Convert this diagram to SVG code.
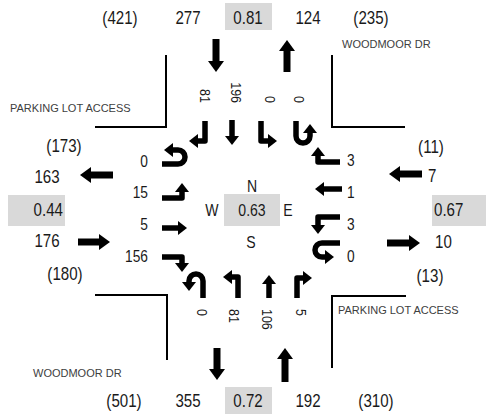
<svg xmlns="http://www.w3.org/2000/svg" width="486" height="418" viewBox="0 0 486 418">
<style>
text{font-family:"Liberation Sans",Arial,sans-serif;fill:#1a1a1a}
.o{font-size:18px}
.i{font-size:16px}
.r{font-size:14.5px}
.st{font-size:11px;fill:#404040}
.m{text-anchor:middle}
.e{text-anchor:end}
.box{fill:#d9d9d9}
.curb{fill:none;stroke:#000;stroke-width:2}
.big{fill:none;stroke:#000;stroke-width:7;marker-end:url(#hb)}
.mv{fill:none;stroke:#000;stroke-width:5.5;stroke-linejoin:round;marker-end:url(#hs)}
</style>
<defs>
<marker id="hb" viewBox="0 0 11 16" refX="0" refY="8" markerWidth="11" markerHeight="16" markerUnits="userSpaceOnUse" orient="auto"><path d="M0,0 L11,8 L0,16z" fill="#000"/></marker>
<marker id="hs" viewBox="0 0 9 14" refX="0" refY="7" markerWidth="9" markerHeight="14" markerUnits="userSpaceOnUse" orient="auto"><path d="M0,0 L9,7 L0,14z" fill="#000"/></marker>
</defs>

<g id="curbs">
<path class="curb" d="M95,127 H166 V55"/>
<path class="curb" d="M332,55 V127 H405"/>
<path class="curb" d="M95,295 H167 V360"/>
<path class="curb" d="M406,296 H332 V368"/>
</g>

<g id="street-labels">
<text class="st" x="342" y="48">WOODMOOR DR</text>
<text class="st" x="10" y="112">PARKING LOT ACCESS</text>
<text class="st" x="338" y="314">PARKING LOT ACCESS</text>
<text class="st" x="33" y="377">WOODMOOR DR</text>
</g>

<g id="north-leg">
<rect class="box" x="225" y="3" width="47" height="27"/>
<text class="o m" transform="translate(120,24) scale(.84,1)">(421)</text>
<text class="o m" transform="translate(188,24) scale(.84,1)">277</text>
<text class="o m" transform="translate(248,24) scale(.84,1)">0.81</text>
<text class="o m" transform="translate(308,24) scale(.84,1)">124</text>
<text class="o m" transform="translate(371,24) scale(.84,1)">(235)</text>
</g>

<g id="south-leg">
<rect class="box" x="225" y="387" width="47" height="27"/>
<text class="o m" transform="translate(124,407) scale(.84,1)">(501)</text>
<text class="o m" transform="translate(188,407) scale(.84,1)">355</text>
<text class="o m" transform="translate(248,407) scale(.84,1)">0.72</text>
<text class="o m" transform="translate(308,407) scale(.84,1)">192</text>
<text class="o m" transform="translate(376,407) scale(.84,1)">(310)</text>
</g>

<g id="west-leg">
<rect class="box" x="8" y="195" width="57" height="31"/>
<text class="o m" transform="translate(64,152) scale(.84,1)">(173)</text>
<text class="o m" transform="translate(47,183) scale(.84,1)">163</text>
<text class="o e" transform="translate(63,216) scale(.84,1)">0.44</text>
<text class="o m" transform="translate(47,247) scale(.84,1)">176</text>
<text class="o m" transform="translate(65,280) scale(.84,1)">(180)</text>
</g>

<g id="east-leg">
<rect class="box" x="432" y="195" width="54" height="31"/>
<text class="o m" transform="translate(431,153) scale(.84,1)">(11)</text>
<text class="o" transform="translate(428,182) scale(.84,1)">7</text>
<text class="o" transform="translate(434,216) scale(.84,1)">0.67</text>
<text class="o" transform="translate(435,248) scale(.84,1)">10</text>
<text class="o m" transform="translate(430,282) scale(.84,1)">(13)</text>
</g>

<g id="center">
<rect class="box" x="224" y="194" width="56" height="32"/>
<text class="i m" transform="translate(252,192) scale(.88,1)">N</text>
<text class="i m" transform="translate(212,216) scale(.88,1)">W</text>
<text class="i m" transform="translate(252,216) scale(.88,1)">0.63</text>
<text class="i m" transform="translate(288,216) scale(.88,1)">E</text>
<text class="i m" transform="translate(251,248) scale(.88,1)">S</text>
</g>

<g id="movement-labels">
<text class="i e" transform="translate(148,167) scale(.86,1)">0</text>
<text class="i e" transform="translate(148,198) scale(.86,1)">15</text>
<text class="i e" transform="translate(148,230) scale(.86,1)">5</text>
<text class="i e" transform="translate(148,262) scale(.86,1)">156</text>
<text class="i" transform="translate(347,166) scale(.86,1)">3</text>
<text class="i" transform="translate(347,198) scale(.86,1)">1</text>
<text class="i" transform="translate(347,230) scale(.86,1)">3</text>
<text class="i" transform="translate(347,262) scale(.86,1)">0</text>
<text class="r e" transform="translate(200,103) rotate(90) scale(.86,1)">81</text>
<text class="r e" transform="translate(231,103) rotate(90) scale(.86,1)">196</text>
<text class="r e" transform="translate(265,103) rotate(90) scale(.86,1)">0</text>
<text class="r e" transform="translate(294,103) rotate(90) scale(.86,1)">0</text>
<text class="r" transform="translate(197,309) rotate(90) scale(.86,1)">0</text>
<text class="r" transform="translate(229,309) rotate(90) scale(.86,1)">81</text>
<text class="r" transform="translate(262,309) rotate(90) scale(.86,1)">106</text>
<text class="r" transform="translate(296,309) rotate(90) scale(.86,1)">5</text>
</g>

<g id="connectors">
<path class="big" d="M216,39 V61"/>
<path class="big" d="M287,72 V51"/>
<path class="big" d="M217,348 V369"/>
<path class="big" d="M285,382 V359"/>
<path class="big" d="M113,175 H91"/>
<path class="big" d="M78,242 H99"/>
<path class="big" d="M422,174 H400"/>
<path class="big" d="M387,243 H409"/>

<path class="mv" d="M162,164 H178 A7,7 0 0 0 178,150 H173"/>
<path class="mv" d="M162,198 H182 V192"/>
<path class="mv" d="M162,228 H178"/>
<path class="mv" d="M162,257 H182 V263"/>

<path class="mv" d="M340,162 H318 V156"/>
<path class="mv" d="M342,189 H324"/>
<path class="mv" d="M340,217 H318 V225"/>
<path class="mv" d="M340,243 H322 A7,7 0 0 0 322,257 H325"/>

<path class="mv" d="M205,121 V141 H198"/>
<path class="mv" d="M232,120 V136"/>
<path class="mv" d="M261,121 V141 H268"/>
<path class="mv" d="M296,121 V136 A7,7 0 0 0 310,136 V133"/>

<path class="mv" d="M203,298 V281 A7,7 0 0 0 189,281 V282"/>
<path class="mv" d="M238,298 V277 H232"/>
<path class="mv" d="M269,298 V284"/>
<path class="mv" d="M297,298 V278 H303"/>
</g>
</svg>
